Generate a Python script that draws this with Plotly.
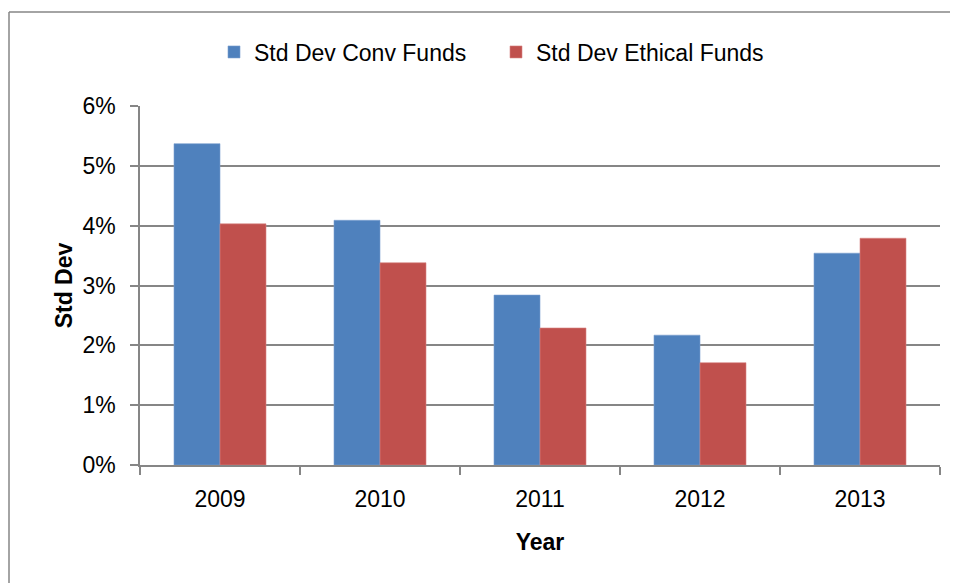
import plotly.graph_objects as go

years = ["2009", "2010", "2011", "2012", "2013"]
conv_funds = [0.0537, 0.0409, 0.0284, 0.0217, 0.0354]
ethical_funds = [0.0403, 0.0338, 0.0229, 0.0171, 0.0379]
y_ticks = [0, 0.01, 0.02, 0.03, 0.04, 0.05, 0.06]

FONT = "'Liberation Sans', Arial, sans-serif"
GRID = "#868686"

# page has an 8px body margin, so the figure is 950x575 placed at (8, 8)
W, H = 950, 575
ML, MR, MT, MB = 132, 18, 98, 118
PW, PH = W - ML - MR, H - MT - MB

fig = go.Figure()
fig.add_trace(go.Bar(x=years, y=conv_funds, name="Std Dev Conv Funds",
                     marker=dict(color="#4F81BD", line=dict(color="#7A9FD0", width=0.6))))
fig.add_trace(go.Bar(x=years, y=ethical_funds, name="Std Dev Ethical Funds",
                     marker=dict(color="#C0504D", line=dict(color="#D88583", width=0.6))))

fig.update_layout(
    width=W, height=H,
    margin=dict(l=ML, r=MR, t=MT, b=MB),
    paper_bgcolor="white", plot_bgcolor="white",
    font=dict(family=FONT, size=23, color="black"),
    barmode="group", bargap=0.425, bargroupgap=0,
    showlegend=True,
    legend=dict(orientation="h", x=(206 - ML) / PW, xanchor="left",
                y=(MT + PH - 44) / PH, yanchor="middle",
                font=dict(size=23), itemwidth=30, traceorder="normal",
                entrywidth=237, entrywidthmode="pixels",
                bgcolor="rgba(0,0,0,0)"),
    xaxis=dict(
        title=dict(text="<b>Year</b>", font=dict(size=23), standoff=23),
        showline=True, linecolor=GRID, linewidth=1.5,
        ticks="outside", tickson="boundaries", ticklen=8, tickcolor=GRID, tickwidth=1.5,
        showgrid=False, ticklabelstandoff=13,
    ),
    yaxis=dict(
        title=dict(text="<b>Std Dev</b>", font=dict(size=23), standoff=3),
        range=[0, 0.06], tickvals=y_ticks, tickformat=".0%",
        showline=True, linecolor=GRID, linewidth=1.5,
        ticks="outside", ticklen=8, tickcolor=GRID, tickwidth=1.5,
        showgrid=True, gridcolor=GRID, gridwidth=1.5,
        zeroline=False, ticklabelstandoff=10,
    ),
)

# outer chart frame (top and left edges visible)
top_y = (MT + PH - 4) / PH
left_x = (1 - ML) / PW
fig.add_shape(type="line", xref="paper", yref="paper",
              x0=left_x, x1=1.1, y0=top_y, y1=top_y,
              line=dict(color=GRID, width=1.5))
fig.add_shape(type="line", xref="paper", yref="paper",
              x0=left_x, x1=left_x, y0=top_y, y1=-0.5,
              line=dict(color=GRID, width=1.5))

fig.write_html("out.html")
